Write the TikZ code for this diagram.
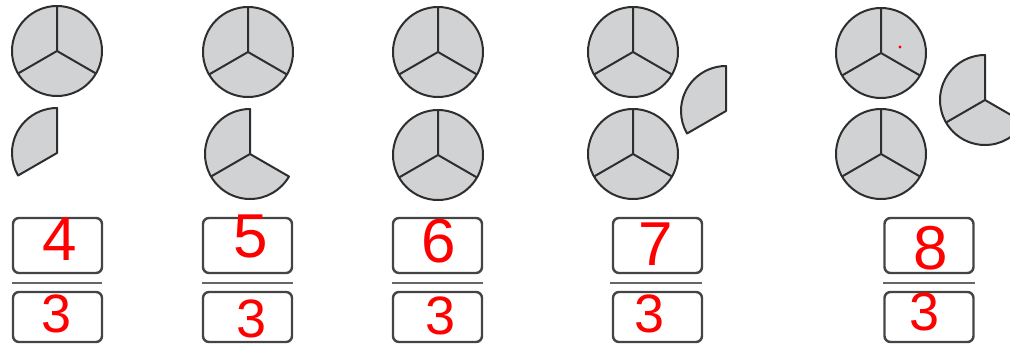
\documentclass[tikz,border=0pt]{standalone}
\usepackage{fontspec}
\setmainfont{Liberation Sans}
\definecolor{piecefill}{HTML}{D1D2D4}
\definecolor{piecedraw}{HTML}{2E2E2E}
\definecolor{boxdraw}{HTML}{444444}
\definecolor{barcol}{HTML}{666666}
\definecolor{ink}{HTML}{FF0000}
\tikzset{
  piece/.style={fill=piecefill, draw=piecedraw, line width=2pt, line join=round},
  spoke/.style={draw=piecedraw, line width=2pt},
  numbox/.style={draw=boxdraw, line width=2.4pt, rounded corners=6pt, minimum width=89pt, inner sep=0pt},
  topbox/.style={numbox, minimum height=55pt},
  botbox/.style={numbox, minimum height=50pt},
  bar/.style={draw=barcol, line width=2pt},
  topdigit/.style={text=ink, font=\fontsize{62}{62}\selectfont, inner sep=0pt},
  botdigit/.style={text=ink, font=\fontsize{54}{54}\selectfont, inner sep=0pt}
}
\newcommand{\fullcircle}[1]{%
  \draw[piece] (#1) circle (45);
  \draw[spoke] (#1) -- +(-90:45) (#1) -- +(-210:45) (#1) -- +(-330:45);}
\newcommand{\onethird}[1]{%
  \draw[piece] (#1) -- +(-90:45) arc[start angle=-90, end angle=-210, radius=45] -- cycle;}
\newcommand{\twothirds}[1]{%
  \draw[piece] (#1) -- +(-90:45) arc[start angle=-90, end angle=-330, radius=45] -- cycle;
  \draw[spoke] (#1) -- +(-210:45);}
\begin{document}
\begin{tikzpicture}[x=1pt,y=-1pt]
\clip (0,0) rectangle (1010,348);
\fill[white] (0,0) rectangle (1010,348);
% circle centres
\coordinate (a1) at (57,51);
\coordinate (a2) at (57,153);
\coordinate (b1) at (248,52);
\coordinate (b2) at (250,154);
\coordinate (c1) at (438,52);
\coordinate (c2) at (438,155);
\coordinate (d1) at (633,52);
\coordinate (d2) at (633,154);
\coordinate (d3) at (726,111);
\coordinate (e1) at (881,53);
\coordinate (e2) at (881,154);
\coordinate (e3) at (985,100);
\fullcircle{a1}
\onethird{a2}
\fullcircle{b1}
\twothirds{b2}
\fullcircle{c1}
\fullcircle{c2}
\fullcircle{d1}
\fullcircle{d2}
\onethird{d3}
\fullcircle{e1}
\fullcircle{e2}
\twothirds{e3}
\fill[ink] (900,47) circle (1.6);
% fraction boxes
\node[topbox] (ta) at (57.5,245.5) {};
\node[botbox] (ba) at (57.5,317) {};
\node[topbox] (tb) at (247.5,245.5) {};
\node[botbox] (bb) at (247.5,317) {};
\node[topbox] (tc) at (437.5,245.5) {};
\node[botbox] (bc) at (437.5,317) {};
\node[topbox] (td) at (657.5,245.5) {};
\node[botbox] (bd) at (657.5,317) {};
\node[topbox] (te) at (929,245.5) {};
\node[botbox] (be) at (929,317) {};
% fraction bars
\draw[bar] (12,283) -- (102,283);
\draw[bar] (202,283) -- (293,283);
\draw[bar] (392,283) -- (483,283);
\draw[bar] (610,283) -- (702,283);
\draw[bar] (883,283) -- (975,283);
% handwritten numbers
\node[topdigit] (na) at (60,239) {4};
\node[topdigit] (nb) at (251,236) {5};
\node[topdigit] (nc) at (439,241) {6};
\node[topdigit] (nd) at (656,244) {7};
\node[topdigit] (ne) at (931,248) {8};
\node[botdigit] (da) at (57,314) {3};
\node[botdigit] (db) at (252,319) {3};
\node[botdigit] (dc) at (441,316) {3};
\node[botdigit] (dd) at (650,314) {3};
\node[botdigit] (de) at (925,312) {3};
\end{tikzpicture}
\end{document}
